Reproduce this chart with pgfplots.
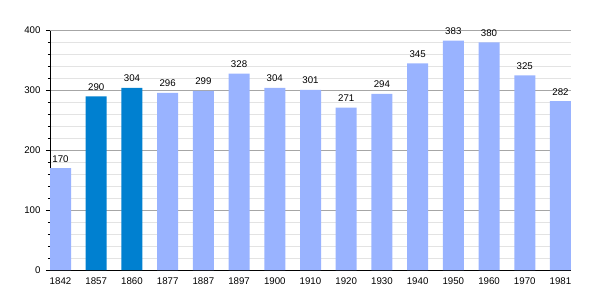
\documentclass[border=0pt]{standalone}
\usepackage{pgfplots}
\pgfplotsset{compat=1.18}
\usepackage{fontspec}
\setmainfont{Liberation Sans}
\definecolor{lb}{HTML}{99B3FF}
\definecolor{db}{HTML}{0080D0}
\begin{document}
\begin{tikzpicture}[x=1pt,y=1pt]
\useasboundingbox (-50,-30) rectangle (550,270);
\begin{axis}[
  at={(0pt,0pt)}, anchor=south west,
  scale only axis, width=521pt, height=239.5pt,
  xmin=-0.295, xmax=14.295, ymin=0, ymax=400,
  axis lines=left, axis line style={-, black},
  xtick={0,...,14},
  xticklabels={1842,1857,1860,1877,1887,1897,1900,1910,1920,1930,1940,1950,1960,1970,1981},
  ytick={0,100,200,300,400},
  minor y tick num=4,
  ymajorgrids, yminorgrids,
  major grid style={draw=gray!70},
  minor grid style={draw=gray!22},
  x tick style={draw=none},
  y tick style={draw=black},
  tick align=outside,
  major tick length=4pt, minor tick length=2pt,
  ticklabel style={font=\fontsize{9.7}{11}\selectfont},
  /pgf/number format/assume math mode=true,
  yticklabel style={xshift=-2pt},
  ybar, bar width=21pt, bar shift=0pt,
  nodes near coords,
  every node near coord/.append style={font=\fontsize{9.7}{11}\selectfont, black, yshift=2.5pt},
  clip=false,
]
\addplot[fill=lb, draw=none] coordinates {(0,170) (3,296) (4,299) (5,328) (6,304) (7,301) (8,271) (9,294) (10,345) (11,383) (12,380) (13,325) (14,282)};
\addplot[fill=db, draw=none] coordinates {(1,290) (2,304)};
\end{axis}
\end{tikzpicture}
\end{document}
